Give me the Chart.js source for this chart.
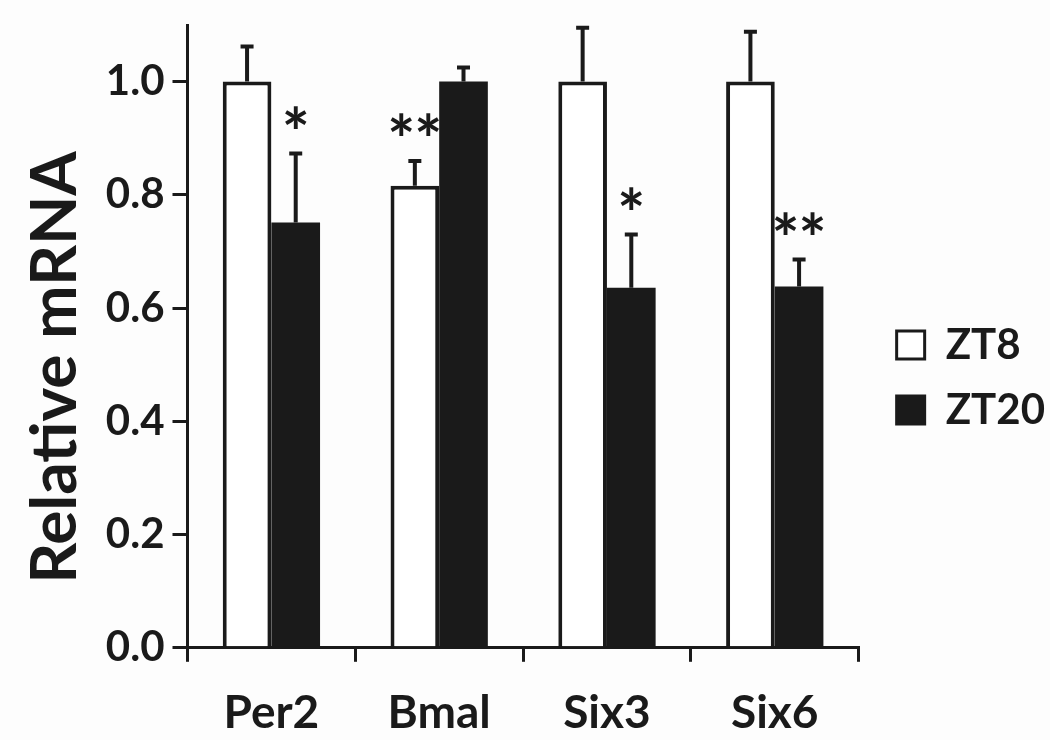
<!DOCTYPE html>
<html>
<head>
<meta charset="utf-8">
<script src="https://cdn.jsdelivr.net/npm/chart.js@4.4.1/dist/chart.umd.min.js"></script>
<style>
  html, body { margin: 0; padding: 0; background: #fdfdfd; }
  #wrap { width: 1050px; height: 740px; }
</style>
</head>
<body>
<div id="wrap"><canvas id="mrnaChart"></canvas></div>
<script>
// --- data ---
const genes = ['Per2', 'Bmal', 'Six3', 'Six6'];
const zt8Values = [1.0, 0.816, 1.0, 1.0];
const zt8Errors = [0.062, 0.044, 0.095, 0.088];
const zt20Values = [0.751, 1.0, 0.636, 0.638];
const zt20Errors = [0.122, 0.025, 0.094, 0.048];
const zt8Stars = ['', '**', '', ''];
const zt20Stars = ['*', '', '*', '**'];
const yTicks = [0, 0.2, 0.4, 0.6, 0.8, 1.0];

const ink = '#1a1a1a';
const font = 'Lato';

// error bars (upward only) and significance stars
const errorBarPlugin = {
  id: 'errorBars',
  afterDatasetsDraw(chart) {
    const ctx = chart.ctx;
    const y = chart.scales.y;
    ctx.save();
    chart.data.datasets.forEach((ds, di) => {
      const meta = chart.getDatasetMeta(di);
      meta.data.forEach((bar, i) => {
        const top = y.getPixelForValue(ds.data[i] + ds.errors[i]);
        ctx.strokeStyle = ink;
        ctx.lineWidth = 4;
        ctx.beginPath();
        ctx.moveTo(bar.x, bar.y);
        ctx.lineTo(bar.x, top);
        ctx.moveTo(bar.x - 6.5, top);
        ctx.lineTo(bar.x + 6.5, top);
        ctx.stroke();
        const n = ds.stars[i].length;
        ctx.fillStyle = ink;
        ctx.font = 'bold 66px ' + font;
        ctx.textAlign = 'center';
        ctx.textBaseline = 'middle';
        for (let k = 0; k < n; k++) {
          ctx.fillText('*', bar.x + (k - (n - 1) / 2) * 27, top - 18);
        }
      });
    });
    ctx.restore();
  }
};

// nudge the legend to the right without squeezing the plot
const legendShift = {
  id: 'legendShift',
  afterLayout(chart) {
    chart.legend.left += 15;
    chart.legend.right += 15;
    chart.legend.top -= 5;
    chart.legend.bottom -= 5;
  }
};

new Chart(document.getElementById('mrnaChart'), {
  type: 'bar',
  data: {
    labels: genes,
    datasets: [
      {
        label: 'ZT8',
        data: zt8Values,
        errors: zt8Errors,
        stars: zt8Stars,
        backgroundColor: '#ffffff',
        borderColor: ink,
        borderWidth: 4,
        borderSkipped: 'bottom'
      },
      {
        label: 'ZT20',
        data: zt20Values,
        errors: zt20Errors,
        stars: zt20Stars,
        backgroundColor: ink,
        borderColor: ink,
        borderWidth: 0
      }
    ]
  },
  options: {
    responsive: true,
    maintainAspectRatio: false,
    animation: false,
    layout: { padding: { top: 25, right: 10, bottom: 0, left: 17 } },
    datasets: { bar: { categoryPercentage: 0.58, barPercentage: 1.0 } },
    plugins: {
      tooltip: { enabled: false },
      legend: {
        position: 'right',
        labels: {
          color: ink,
          font: { family: font, weight: 'bold', size: 42 },
          boxWidth: 28,
          boxHeight: 28,
          padding: 23,
          generateLabels(chart) {
            return chart.data.datasets.map((ds, i) => ({
              text: ds.label,
              fillStyle: ds.backgroundColor,
              strokeStyle: ink,
              lineWidth: 3,
              fontColor: ink,
              datasetIndex: i
            }));
          }
        }
      }
    },
    scales: {
      x: {
        afterFit(scale) {
          scale.height -= 25;
        },
        grid: {
          offset: true,
          drawOnChartArea: false,
          drawTicks: true,
          tickLength: 14,
          color: ink,
          lineWidth: 3
        },
        border: { display: true, color: ink, width: 3 },
        ticks: {
          color: ink,
          padding: 24,
          font: { family: font, weight: 'bold', size: 46 }
        }
      },
      y: {
        min: 0,
        max: 1.1,
        afterBuildTicks(scale) {
          scale.ticks = yTicks.map(v => ({ value: v }));
        },
        afterFit(scale) {
          scale.paddingTop = 0;
          scale.paddingBottom = 0;
        },
        grid: {
          drawOnChartArea: false,
          drawTicks: true,
          tickLength: 15,
          color: ink,
          lineWidth: 3
        },
        border: { display: true, color: ink, width: 3 },
        ticks: {
          color: ink,
          padding: 8,
          font: { family: font, weight: 'bold', size: 42 },
          callback: v => Number(v).toFixed(1)
        },
        title: {
          display: true,
          text: 'Relative mRNA    ',
          color: ink,
          padding: { top: 0, bottom: 4 },
          font: { family: font, weight: 'bold', size: 64 }
        }
      }
    }
  },
  plugins: [errorBarPlugin, legendShift]
});
</script>
</body>
</html>
